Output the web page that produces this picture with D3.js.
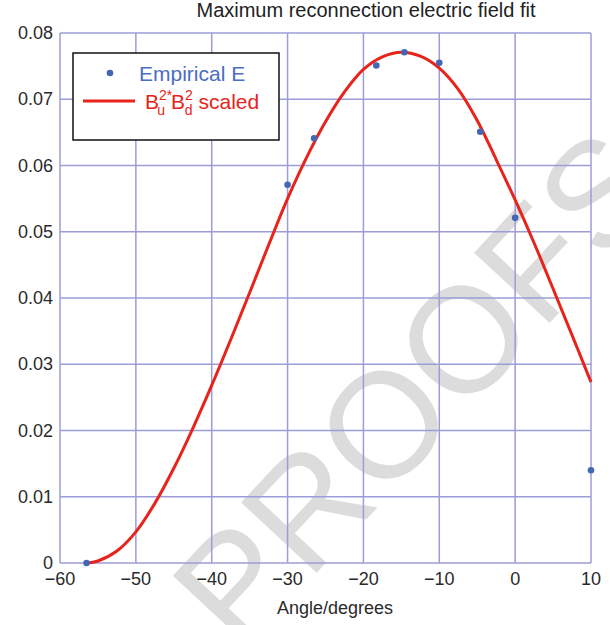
<!DOCTYPE html>
<html>
  <head>
    <meta charset="utf-8">
    <script src="https://d3js.org/d3.v7.min.js"></script>
    <title>Maximum reconnection electric field fit</title>
    <style>
      body { margin: 0; background: #fff; }
      text { font-family: "Liberation Sans", Arial, sans-serif; }
      .grid line { stroke: #9c9cd8; stroke-width: 1.5; }
      .tick-label { fill: #2a2a2a; font-size: 18px; }
    </style>
  </head>
  <body>
    <div id="chart"></div>
    <script>
      // Empirical E (dots)
      const pointAngle = [-56.5, -30, -26.5, -18.3, -14.6, -10, -4.6, 0, 10];
      const pointE = [0.0, 0.0571, 0.0641, 0.0751, 0.0771, 0.0755, 0.0651, 0.0521, 0.014];

      // B_u^2* B_d^2 scaled (red curve)
      const curveAngle = [-56.5, -55, -52.5, -50, -47.5, -45, -42.5, -40, -37.5, -35, -32.5, -30,
        -27.5, -25, -22.5, -20, -17.5, -15, -12.5, -10, -7.5, -5, -2.5, 0, 2.5, 5, 7.5, 10];
      const curveE = [0.0, 0.0003, 0.0018, 0.0047, 0.009, 0.0143, 0.0203, 0.0268, 0.0337, 0.0408,
        0.048, 0.055, 0.0612, 0.0666, 0.0711, 0.0745, 0.0764, 0.0771, 0.0765, 0.0747, 0.0715,
        0.0668, 0.0609, 0.0548, 0.0483, 0.0414, 0.0344, 0.0273];

      const xTicks = [-60, -50, -40, -30, -20, -10, 0, 10];
      const yTicks = [0, 0.01, 0.02, 0.03, 0.04, 0.05, 0.06, 0.07, 0.08];

      const W = 610, H = 625;
      const margin = { top: 33, right: 19, bottom: 62, left: 60 };

      const svg = d3.select("#chart").append("svg")
        .attr("width", W)
        .attr("height", H);

      const x = d3.scaleLinear().domain([-60, 10]).range([margin.left, W - margin.right]);
      const y = d3.scaleLinear().domain([0, 0.08]).range([H - margin.bottom, margin.top]);

      // watermark behind everything
      svg.append("text")
        .attr("transform", "translate(240,655) rotate(-47)")
        .attr("font-size", 150)
        .attr("fill", "#dcdcdc")
        .text("PROOFS");

      // grid
      const grid = svg.append("g").attr("class", "grid");
      grid.selectAll(".vx").data(xTicks).enter().append("line")
        .attr("x1", d => x(d)).attr("x2", d => x(d))
        .attr("y1", y(0)).attr("y2", y(0.08));
      grid.selectAll(".hy").data(yTicks).enter().append("line")
        .attr("x1", x(-60)).attr("x2", x(10))
        .attr("y1", d => y(d)).attr("y2", d => y(d));

      // tick labels
      svg.selectAll(".xl").data(xTicks).enter().append("text")
        .attr("class", "tick-label")
        .attr("x", d => x(d))
        .attr("y", y(0) + 22)
        .attr("text-anchor", "middle")
        .text(d => d < 0 ? "\u2212" + Math.abs(d) : d);

      svg.selectAll(".yl").data(yTicks).enter().append("text")
        .attr("class", "tick-label")
        .attr("x", x(-60) - 7)
        .attr("y", d => y(d) + 6)
        .attr("text-anchor", "end")
        .text(d => d === 0 ? "0" : d3.format(".2f")(d));

      // curve
      const line = d3.line()
        .x(d => x(d[0]))
        .y(d => y(d[1]))
        .curve(d3.curveCatmullRom.alpha(0.5));

      svg.append("path")
        .datum(d3.zip(curveAngle, curveE))
        .attr("d", line)
        .attr("fill", "none")
        .attr("stroke", "#e8231b")
        .attr("stroke-width", 3);

      // points
      svg.selectAll(".pt").data(d3.zip(pointAngle, pointE)).enter().append("circle")
        .attr("cx", d => x(d[0]))
        .attr("cy", d => y(d[1]))
        .attr("r", 3.3)
        .attr("fill", "#4467b5");

      // title and axis label
      svg.append("text")
        .attr("x", 366).attr("y", 17)
        .attr("text-anchor", "middle")
        .attr("font-size", 20)
        .attr("fill", "#222")
        .text("Maximum reconnection electric field fit");

      svg.append("text")
        .attr("x", 335).attr("y", 614)
        .attr("text-anchor", "middle")
        .attr("font-size", 18)
        .attr("fill", "#2a2a2a")
        .text("Angle/degrees");

      // legend
      const lg = svg.append("g");
      lg.append("rect")
        .attr("x", 73).attr("y", 53)
        .attr("width", 206).attr("height", 87)
        .attr("fill", "#fff")
        .attr("stroke", "#111")
        .attr("stroke-width", 1.5);
      lg.append("circle").attr("cx", 110).attr("cy", 73).attr("r", 3.3).attr("fill", "#4467b5");
      lg.append("text")
        .attr("x", 139).attr("y", 81)
        .attr("font-size", 21)
        .attr("fill", "#4a6ec0")
        .text("Empirical E");
      lg.append("line")
        .attr("x1", 83).attr("x2", 135)
        .attr("y1", 101).attr("y2", 101)
        .attr("stroke", "#e8231b").attr("stroke-width", 3);
      const lt = lg.append("text")
        .attr("x", 145).attr("y", 109)
        .attr("font-size", 21)
        .attr("fill", "#e8231b");
      lt.append("tspan").text("B");
      lt.append("tspan").attr("font-size", 14).attr("dy", -9).text("2*");
      lt.append("tspan").attr("font-size", 14).attr("dx", -15).attr("dy", 15).text("u");
      lt.append("tspan").attr("dx", 6).attr("dy", -6).text("B");
      lt.append("tspan").attr("font-size", 14).attr("dy", -9).text("2");
      lt.append("tspan").attr("font-size", 14).attr("dx", -8).attr("dy", 15).text("d");
      lt.append("tspan").attr("dy", -6).text(" scaled");
    </script>
  </body>
</html>
